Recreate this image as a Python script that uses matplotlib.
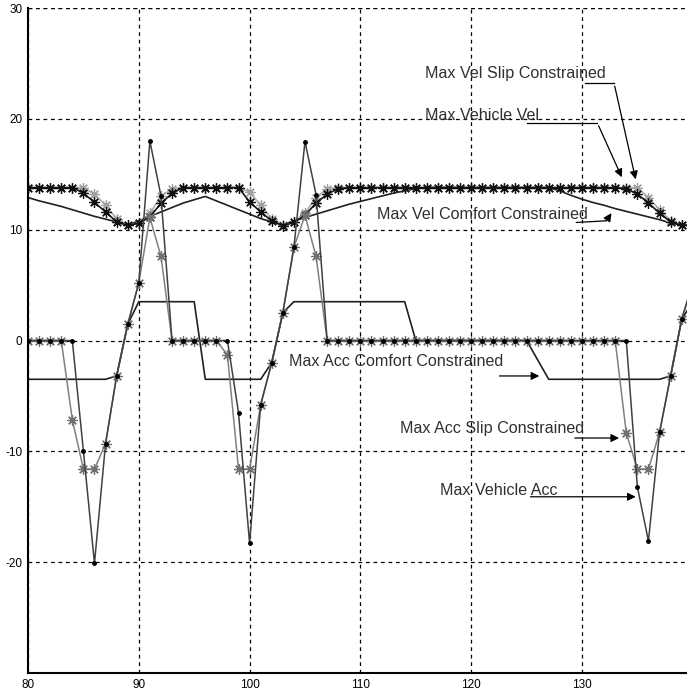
import matplotlib
matplotlib.use('Agg')
import matplotlib.pyplot as plt

plt.rcParams['font.family'] = ['Liberation Sans', 'DejaVu Sans']
plt.rcParams['axes.unicode_minus'] = False

# sample points (one per unit)
t = list(range(80, 141))

veh_vel = [13.8, 13.8, 13.8, 13.8, 13.8, 13.3, 12.46, 11.6, 10.7, 10.4,
           10.56, 11.16, 12.37, 13.27, 13.8, 13.8, 13.8, 13.8, 13.8, 13.8,
           12.5, 11.6, 10.8, 10.35, 10.65, 11.3, 12.4, 13.2, 13.7, 13.8,
           13.8, 13.8, 13.8, 13.8, 13.8, 13.8, 13.8, 13.8, 13.8, 13.8,
           13.8, 13.8, 13.8, 13.8, 13.8, 13.8, 13.8, 13.8, 13.8, 13.8,
           13.8, 13.8, 13.8, 13.8, 13.7, 13.2, 12.4, 11.5, 10.7, 10.4,
           10.4]

slip_vel = [13.8, 13.8, 13.8, 13.8, 13.8, 13.8, 13.2, 12.2, 11.0, 10.4,
            10.6, 11.5, 13.0, 13.7, 13.8, 13.8, 13.8, 13.8, 13.8, 13.8,
            13.4, 12.2, 11.0, 10.4, 10.7, 11.5, 12.9, 13.7, 13.8, 13.8,
            13.8, 13.8, 13.8, 13.8, 13.8, 13.8, 13.8, 13.8, 13.8, 13.8,
            13.8, 13.8, 13.8, 13.8, 13.8, 13.8, 13.8, 13.8, 13.8, 13.8,
            13.8, 13.8, 13.8, 13.8, 13.8, 13.8, 12.9, 11.8, 10.8, 10.4,
            10.4]

comfort_vel = [12.9, 12.6, 12.35, 12.1, 11.8, 11.5, 11.2, 10.95, 10.7, 10.4,
               10.8, 11.2, 11.6, 12.0, 12.4, 12.7, 13.0, 12.6, 12.2, 11.8,
               11.4, 11.0, 10.7, 10.45, 10.8, 11.1, 11.4, 11.7, 12.0, 12.3,
               12.55, 12.8, 13.05, 13.3, 13.5, 13.7, 13.8, 13.8, 13.8, 13.8,
               13.8, 13.8, 13.8, 13.8, 13.8, 13.8, 13.8, 13.8, 13.5, 13.1,
               12.75, 12.45, 12.2, 11.9, 11.65, 11.4, 11.15, 10.9, 10.6, 10.4,
               10.4]

comfort_acc = [-3.5, -3.5, -3.5, -3.5, -3.5, -3.5, -3.5, -3.5, -3.2, 1.45,
               3.5, 3.5, 3.5, 3.5, 3.5, 3.5, -3.5, -3.5, -3.5, -3.5,
               -3.5, -3.5, -2.0, 2.5, 3.5, 3.5, 3.5, 3.5, 3.5, 3.5,
               3.5, 3.5, 3.5, 3.5, 3.5, 0.0, 0.0, 0.0, 0.0, 0.0,
               0.0, 0.0, 0.0, 0.0, 0.0, 0.0, -1.75, -3.5, -3.5, -3.5,
               -3.5, -3.5, -3.5, -3.5, -3.5, -3.5, -3.5, -3.5, -3.2, 1.9,
               3.5]

slip_acc = [0, 0, 0, 0, -7.15, -11.6, -11.6, -9.3, -3.2, 1.45,
            5.2, 11.1, 7.6, 0, 0, 0, 0, 0, -1.3, -11.6,
            -11.6, -5.8, -2.0, 2.5, 8.4, 11.3, 7.6, 0, 0, 0,
            0, 0, 0, 0, 0, 0, 0, 0, 0, 0,
            0, 0, 0, 0, 0, 0, 0, 0, 0, 0,
            0, 0, 0, 0, -8.35, -11.6, -11.6, -8.3, -3.2, 1.9,
            5.2]

veh_acc = [0, 0, 0, 0, 0, -9.95, -20.1, -9.3, -3.2, 1.45,
           5.2, 18.0, 13.05, 0, 0, 0, 0, 0, 0, -6.5,
           -18.3, -5.8, -2.0, 2.5, 8.4, 17.95, 13.15, 0, 0, 0,
           0, 0, 0, 0, 0, 0, 0, 0, 0, 0,
           0, 0, 0, 0, 0, 0, 0, 0, 0, 0,
           0, 0, 0, 0, 0, -13.2, -18.1, -8.3, -3.2, 1.9,
           5.2]

fig = plt.figure(figsize=(6.87, 6.93), dpi=100)
ax = fig.add_axes([28 / 687, 20 / 693, 659 / 687, 665 / 693])

star = (8, 2, 0)  # matlab-like asterisk

ax.plot(t, comfort_vel, color='#202020', lw=1.2)
ax.plot(t, comfort_acc, color='#202020', lw=1.2)
ax.plot(t, slip_vel, color='#b0b0b0', lw=1.2, marker=star, ms=7.5, mew=0.9, mec='#a0a0a0')
ax.plot(t, veh_vel, color='#151515', lw=1.2, marker=star, ms=7.5, mew=0.9, mec='#101010')
ax.plot(t, slip_acc, color='#808080', lw=1.1, marker=star, ms=7.5, mew=0.9, mec='#707070')
ax.plot(t, veh_acc, color='#404040', lw=1.1, marker='.', ms=5, mfc='black', mec='black')

ax.set_xlim(80, 139.48)
ax.set_ylim(-30, 30)
ax.set_xticks([80, 90, 100, 110, 120, 130])
ax.set_yticks([-20, -10, 0, 10, 20, 30])
ax.grid(True, color='black', linestyle=(0, (3, 3)), linewidth=0.9)
ax.axhline(30, color='black', linestyle=(0, (3, 3)), linewidth=0.9)
ax.tick_params(direction='in', length=0, labelsize=8.5, pad=4)
for side in ['top', 'right']:
    ax.spines[side].set_visible(False)
for side in ['left', 'bottom']:
    ax.spines[side].set_linewidth(1.5)

txt = dict(fontsize=11.6, color='#303030', va='center')
arr = dict(arrowstyle='-|>', color='black', lw=0.9, mutation_scale=12)

# Max Vel Slip Constrained
ax.text(115.8, 24.1, 'Max Vel Slip Constrained', **txt)
ax.plot([130.3, 132.9], [23.2, 23.2], color='black', lw=0.9)
ax.annotate('', xy=(134.9, 14.3), xytext=(132.9, 23.2), arrowprops=arr)

# Max Vehicle Vel
ax.text(115.8, 20.3, 'Max Vehicle Vel', **txt)
ax.plot([125.0, 131.4], [19.6, 19.6], color='black', lw=0.9)
ax.annotate('', xy=(133.7, 14.5), xytext=(131.4, 19.6), arrowprops=arr)

# Max Vel Comfort Constrained
ax.text(111.5, 11.4, 'Max Vel Comfort Constrained', **txt)
ax.plot([129.5, 132.2], [10.65, 10.8], color='black', lw=0.9)
ax.annotate('', xy=(132.8, 11.7), xytext=(132.2, 10.8), arrowprops=arr)

# Max Acc Comfort Constrained
ax.text(103.6, -1.9, 'Max Acc Comfort Constrained', **txt)
ax.annotate('', xy=(126.4, -3.2), xytext=(122.3, -3.2), arrowprops=arr)

# Max Acc Slip Constrained
ax.text(113.6, -7.9, 'Max Acc Slip Constrained', **txt)
ax.annotate('', xy=(133.6, -8.8), xytext=(129.1, -8.8), arrowprops=arr)

# Max Vehicle Acc
ax.text(117.2, -13.5, 'Max Vehicle Acc', **txt)
ax.annotate('', xy=(135.1, -14.1), xytext=(125.1, -14.1), arrowprops=arr)

fig.savefig('out.png', dpi=100)
